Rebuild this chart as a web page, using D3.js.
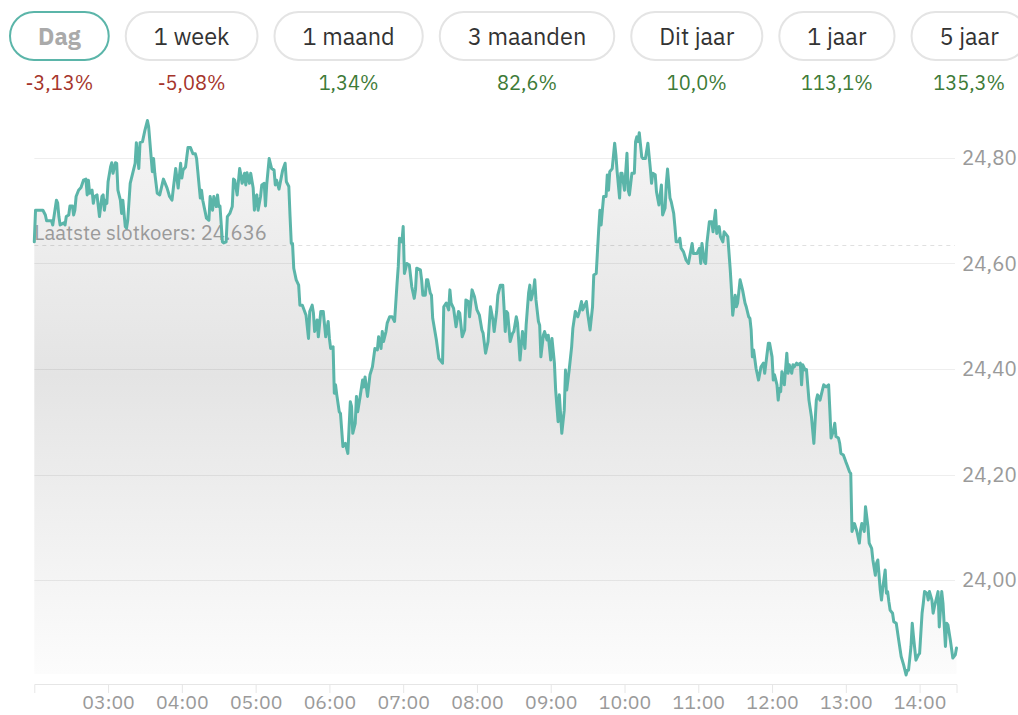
<!DOCTYPE html>
<html>
<head>
<meta charset="utf-8">
<script src="https://cdn.jsdelivr.net/npm/d3@7"></script>
<style>
	body { margin: 0; background: #fff; font-family: "IBM Plex Sans", "Noto Sans", sans-serif; }
</style>
</head>
<body>
<div id="chart"></div>
<script>
// Period buttons and their changes
var periodLabels = ['Dag', '1 week', '1 maand', '3 maanden', 'Dit jaar', '1 jaar', '5 jaar'];
var periodChanges = [-3.13, -5.08, 1.34, 82.6, 10.0, 113.1, 135.3];
var periodChangeText = ['-3,13%', '-5,08%', '1,34%', '82,6%', '10,0%', '113,1%', '135,3%'];
var activePeriod = 'Dag';

// Axis ticks
var yTickValues = [24.0, 24.2, 24.4, 24.6, 24.8];
var xTickLabels = ['03:00', '04:00', '05:00', '06:00', '07:00', '08:00', '09:00', '10:00', '11:00', '12:00', '13:00', '14:00'];
var xDomain = ['02:00', '14:30'];

// Previous close
var lastClose = 24.636;

// Intraday prices [time, price]
var koersData = [
	['02:00', 24.641], ['02:01', 24.701], ['02:05', 24.701], ['02:07', 24.701], ['02:09', 24.692], ['02:10', 24.681],
	['02:14', 24.681], ['02:15', 24.673], ['02:18', 24.720], ['02:19', 24.715], ['02:20', 24.689], ['02:21', 24.673],
	['02:24', 24.677], ['02:25', 24.673], ['02:26', 24.689], ['02:28', 24.692], ['02:29', 24.709], ['02:31', 24.709],
	['02:32', 24.692], ['02:33', 24.701], ['02:34', 24.727], ['02:36', 24.739], ['02:38', 24.744], ['02:40', 24.758],
	['02:42', 24.760], ['02:43', 24.730], ['02:44', 24.758], ['02:45', 24.733], ['02:47', 24.739], ['02:48', 24.714],
	['02:49', 24.727], ['02:51', 24.730], ['02:53', 24.689], ['02:55', 24.727], ['02:56', 24.730], ['02:57', 24.701],
	['02:58', 24.720], ['02:59', 24.714], ['03:00', 24.755], ['03:02', 24.783], ['03:03', 24.791], ['03:04', 24.771],
	['03:06', 24.791], ['03:07', 24.790], ['03:08', 24.739], ['03:10', 24.720], ['03:11', 24.695], ['03:12', 24.720],
	['03:14', 24.670], ['03:15', 24.667], ['03:16', 24.682], ['03:18', 24.752], ['03:20', 24.771], ['03:22', 24.790],
	['03:23', 24.829], ['03:25', 24.780], ['03:26', 24.829], ['03:28', 24.831], ['03:30', 24.853], ['03:32', 24.871],
	['03:33', 24.859], ['03:35', 24.802], ['03:36', 24.774], ['03:37', 24.799], ['03:38', 24.771], ['03:40', 24.733],
	['03:42', 24.730], ['03:45', 24.760], ['03:48', 24.743], ['03:50', 24.727], ['03:52', 24.720], ['03:53', 24.741],
	['03:55', 24.780], ['03:57', 24.743], ['03:59', 24.790], ['04:00', 24.762], ['04:01', 24.777], ['04:03', 24.783],
	['04:05', 24.820], ['04:07', 24.820], ['04:09', 24.808], ['04:11', 24.808], ['04:12', 24.799], ['04:15', 24.724],
	['04:16', 24.739], ['04:17', 24.720], ['04:20', 24.686], ['04:22', 24.682], ['04:23', 24.727], ['04:25', 24.701],
	['04:26', 24.727], ['04:28', 24.708], ['04:29', 24.730], ['04:30', 24.708], ['04:31', 24.709], ['04:33', 24.641],
	['04:34', 24.639], ['04:36', 24.641], ['04:37', 24.689], ['04:39', 24.695], ['04:41', 24.708], ['04:42', 24.760],
	['04:43', 24.758], ['04:45', 24.730], ['04:47', 24.780], ['04:48', 24.768], ['04:49', 24.752], ['04:51', 24.771],
	['04:52', 24.749], ['04:53', 24.772], ['04:55', 24.752], ['04:56', 24.771], ['04:58', 24.743], ['04:59', 24.701],
	['05:00', 24.727], ['05:01', 24.730], ['05:02', 24.701], ['05:04', 24.727], ['05:05', 24.749], ['05:07', 24.752],
	['05:08', 24.709], ['05:09', 24.749], ['05:11', 24.799], ['05:13', 24.780], ['05:15', 24.777], ['05:16', 24.749],
	['05:17', 24.758], ['05:19', 24.741], ['05:22', 24.777], ['05:24', 24.790], ['05:25', 24.755], ['05:27', 24.746],
	['05:28', 24.689], ['05:29', 24.638], ['05:30', 24.638], ['05:31', 24.591], ['05:33', 24.569], ['05:35', 24.559],
	['05:36', 24.521], ['05:38', 24.521], ['05:41', 24.502], ['05:43', 24.458], ['05:44', 24.509], ['05:46', 24.521],
	['05:47', 24.506], ['05:48', 24.471], ['05:50', 24.493], ['05:51', 24.461], ['05:53', 24.509], ['05:55', 24.509],
	['05:57', 24.461], ['05:59', 24.490], ['06:00', 24.458], ['06:01', 24.439], ['06:03', 24.442], ['06:04', 24.354],
	['06:05', 24.370], ['06:06', 24.351], ['06:08', 24.319], ['06:09', 24.316], ['06:11', 24.253], ['06:13', 24.259],
	['06:15', 24.240], ['06:17', 24.338], ['06:18', 24.329], ['06:19', 24.278], ['06:21', 24.297], ['06:22', 24.348],
	['06:23', 24.319], ['06:25', 24.348], ['06:27', 24.379], ['06:28', 24.366], ['06:29', 24.385], ['06:31', 24.348],
	['06:33', 24.389], ['06:35', 24.404], ['06:37', 24.439], ['06:39', 24.436], ['06:40', 24.461], ['06:42', 24.439],
	['06:43', 24.471], ['06:44', 24.452], ['06:46', 24.471], ['06:47', 24.487], ['06:49', 24.499], ['06:51', 24.499],
	['06:53', 24.490], ['06:55', 24.562], ['06:56', 24.594], ['06:57', 24.648], ['06:59', 24.641], ['07:00', 24.670],
	['07:01', 24.581], ['07:03', 24.600], ['07:05', 24.597], ['07:07', 24.556], ['07:09', 24.534], ['07:10', 24.550],
	['07:11', 24.591], ['07:14', 24.588], ['07:15', 24.569], ['07:16', 24.540], ['07:18', 24.540], ['07:19', 24.569],
	['07:20', 24.569], ['07:22', 24.544], ['07:23', 24.540], ['07:24', 24.496], ['07:27', 24.455], ['07:29', 24.420],
	['07:32', 24.411], ['07:33', 24.518], ['07:35', 24.525], ['07:37', 24.512], ['07:38', 24.550], ['07:39', 24.525],
	['07:41', 24.515], ['07:43', 24.480], ['07:45', 24.509], ['07:46', 24.506], ['07:48', 24.461], ['07:50', 24.474],
	['07:51', 24.531], ['07:53', 24.528], ['07:54', 24.499], ['07:56', 24.550], ['07:58', 24.537], ['08:00', 24.512],
	['08:02', 24.502], ['08:04', 24.474], ['08:05', 24.468], ['08:07', 24.430], ['08:09', 24.452], ['08:11', 24.518],
	['08:13', 24.493], ['08:14', 24.471], ['08:16', 24.509], ['08:17', 24.540], ['08:19', 24.559], ['08:21', 24.559],
	['08:22', 24.518], ['08:23', 24.471], ['08:24', 24.509], ['08:25', 24.506], ['08:27', 24.452], ['08:29', 24.468],
	['08:30', 24.471], ['08:32', 24.499], ['08:33', 24.487], ['08:34', 24.452], ['08:35', 24.417], ['08:37', 24.471],
	['08:39', 24.439], ['08:40', 24.483], ['08:42', 24.544], ['08:43', 24.559], ['08:44', 24.531], ['08:46', 24.550],
	['08:47', 24.569], ['08:48', 24.531], ['08:50', 24.490], ['08:51', 24.483], ['08:52', 24.423], ['08:54', 24.464],
	['08:55', 24.471], ['08:57', 24.455], ['08:58', 24.464], ['09:00', 24.417], ['09:01', 24.458], ['09:03', 24.411],
	['09:04', 24.360], ['09:06', 24.300], ['09:07', 24.351], ['09:09', 24.278], ['09:11', 24.322], ['09:12', 24.398],
	['09:13', 24.360], ['09:15', 24.398], ['09:17', 24.442], ['09:18', 24.477], ['09:20', 24.509], ['09:22', 24.499],
	['09:23', 24.506], ['09:25', 24.528], ['09:26', 24.512], ['09:29', 24.528], ['09:30', 24.506], ['09:32', 24.474],
	['09:34', 24.518], ['09:35', 24.578], ['09:37', 24.581], ['09:39', 24.664], ['09:40', 24.701], ['09:41', 24.673],
	['09:42', 24.701], ['09:43', 24.727], ['09:45', 24.727], ['09:46', 24.768], ['09:47', 24.739], ['09:48', 24.774],
	['09:50', 24.780], ['09:52', 24.828], ['09:53', 24.806], ['09:54', 24.774], ['09:56', 24.724], ['09:57', 24.771],
	['09:58', 24.771], ['10:00', 24.739], ['10:02', 24.809], ['10:03', 24.739], ['10:04', 24.730], ['10:06', 24.771],
	['10:08', 24.771], ['10:09', 24.831], ['10:10', 24.840], ['10:11', 24.831], ['10:12', 24.848], ['10:14', 24.802],
	['10:15', 24.799], ['10:17', 24.799], ['10:19', 24.828], ['10:21', 24.780], ['10:22', 24.752], ['10:23', 24.771],
	['10:25', 24.768], ['10:26', 24.736], ['10:28', 24.711], ['10:30', 24.749], ['10:31', 24.692], ['10:33', 24.705],
	['10:34', 24.752], ['10:35', 24.779], ['10:37', 24.724], ['10:38', 24.717], ['10:40', 24.695], ['10:41', 24.670],
	['10:42', 24.641], ['10:44', 24.641], ['10:45', 24.648], ['10:46', 24.629], ['10:48', 24.622], ['10:50', 24.607],
	['10:52', 24.600], ['10:53', 24.613], ['10:55', 24.638], ['10:56', 24.619], ['10:57', 24.619], ['10:59', 24.619],
	['11:01', 24.629], ['11:02', 24.600], ['11:03', 24.638], ['11:05', 24.603], ['11:06', 24.600], ['11:07', 24.638],
	['11:09', 24.679], ['11:11', 24.679], ['11:12', 24.660], ['11:13', 24.682], ['11:14', 24.701], ['11:15', 24.657],
	['11:17', 24.670], ['11:18', 24.651], ['11:20', 24.641], ['11:21', 24.660], ['11:22', 24.657], ['11:24', 24.651],
	['11:26', 24.588], ['11:27', 24.550], ['11:28', 24.502], ['11:30', 24.540], ['11:31', 24.518], ['11:32', 24.525],
	['11:34', 24.569], ['11:36', 24.550], ['11:38', 24.525], ['11:39', 24.518], ['11:41', 24.499], ['11:42', 24.496],
	['11:43', 24.474], ['11:44', 24.423], ['11:45', 24.436], ['11:47', 24.401], ['11:49', 24.379], ['11:51', 24.404],
	['11:53', 24.411], ['11:54', 24.392], ['11:55', 24.411], ['11:57', 24.449], ['11:58', 24.449], ['12:00', 24.423],
	['12:01', 24.379], ['12:02', 24.389], ['12:04', 24.370], ['12:05', 24.341], ['12:06', 24.363], ['12:07', 24.357],
	['12:08', 24.395], ['12:10', 24.370], ['12:12', 24.430], ['12:13', 24.392], ['12:14', 24.408], ['12:16', 24.392],
	['12:17', 24.408], ['12:18', 24.404], ['12:20', 24.411], ['12:21', 24.408], ['12:23', 24.411], ['12:24', 24.370],
	['12:25', 24.408], ['12:27', 24.398], ['12:28', 24.399], ['12:30', 24.341], ['12:32', 24.310], ['12:34', 24.259],
	['12:36', 24.341], ['12:37', 24.351], ['12:39', 24.341], ['12:40', 24.351], ['12:42', 24.370], ['12:44', 24.366],
	['12:46', 24.370], ['12:47', 24.322], ['12:48', 24.269], ['12:50', 24.284], ['12:51', 24.297], ['12:52', 24.272],
	['12:54', 24.269], ['12:55', 24.259], ['12:56', 24.240], ['12:58', 24.237], ['13:00', 24.224], ['13:01', 24.218],
	['13:03', 24.205], ['13:04', 24.202], ['13:05', 24.092], ['13:07', 24.107], ['13:09', 24.092], ['13:11', 24.070],
	['13:12', 24.095], ['13:13', 24.107], ['13:15', 24.092], ['13:16', 24.139], ['13:18', 24.101], ['13:19', 24.070],
	['13:21', 24.060], ['13:22', 24.038], ['13:24', 24.009], ['13:25', 24.032], ['13:26', 24.038], ['13:28', 23.981],
	['13:29', 23.962], ['13:30', 23.984], ['13:32', 24.019], ['13:33', 23.975], ['13:34', 23.978], ['13:35', 23.959],
	['13:36', 23.943], ['13:38', 23.937], ['13:39', 23.921], ['13:41', 23.918], ['13:43', 23.886], ['13:45', 23.855],
	['13:47', 23.839], ['13:49', 23.820], ['13:50', 23.829], ['13:51', 23.829], ['13:53', 23.874], ['13:54', 23.918],
	['13:55', 23.893], ['13:57', 23.848], ['13:59', 23.858], ['14:00', 23.861], ['14:02', 23.937], ['14:03', 23.956],
	['14:04', 23.978], ['14:06', 23.975], ['14:07', 23.962], ['14:08', 23.978], ['14:10', 23.962], ['14:11', 23.937],
	['14:12', 23.949], ['14:14', 23.968], ['14:15', 23.978], ['14:16', 23.911], ['14:18', 23.978], ['14:19', 23.956],
	['14:21', 23.874], ['14:22', 23.918], ['14:23', 23.915], ['14:25', 23.886], ['14:27', 23.852], ['14:29', 23.858],
	['14:30', 23.871]
];

// Set up svg width and height
var svgWidth = 1018;
var svgHeight = 715;

// Plot area
var plot = { left: 34.3, right: 956.5, top: 110, bottom: 674, gridRight: 955, axisY: 684 };

var svg = d3.select('#chart').append('svg').attr('width', svgWidth).attr('height', svgHeight);

var parseTime = d3.timeParse('%H:%M');
var nl = d3.formatLocale({ decimal: ',', thousands: '.', grouping: [ 3 ], currency: [ '€', '' ] });
var yFormat = nl.format('.2f');

koersData.forEach(function(d) {
	d.time = parseTime(d[0]);
	d.price = +d[1];
});

// Scales
var xScale = d3.scaleTime().domain(xDomain.map(parseTime)).range([ plot.left, plot.right ]);
var yScale = d3.scaleLinear().domain([ 24.0, 24.8 ]).range([ 580, 158 ]);

// Gradient for the area
var defs = svg.append('defs');
var grad = defs
	.append('linearGradient')
	.attr('id', 'areaFill')
	.attr('gradientUnits', 'userSpaceOnUse')
	.attr('x1', 0)
	.attr('x2', 0)
	.attr('y1', plot.top)
	.attr('y2', plot.bottom);
grad.append('stop').attr('offset', 0).attr('stop-color', '#f6f6f6');
grad.append('stop').attr('offset', 0.47).attr('stop-color', '#e4e4e4');
grad.append('stop').attr('offset', 1).attr('stop-color', '#fcfcfc');

// ---- Period buttons ----
var btnGroup = svg.append('g').attr('class', 'periods');
var btnX = 9;
var btnPad = 29;
var btnGap = 15;
periodLabels.forEach(function(label, i) {
	var isActive = label === activePeriod;
	var g = btnGroup.append('g');
	var rect = g.append('rect');
	var txt = g
		.append('text')
		.attr('y', 45)
		.attr('text-anchor', 'middle')
		.style('font-size', '23.5px')
		.style('font-weight', isActive ? 700 : 400)
		.attr('fill', isActive ? '#aaaaaa' : '#333333')
		.text(label);
	var w = txt.node().getComputedTextLength() + 2 * btnPad;
	var cx = btnX + w / 2;
	txt.attr('x', cx);
	rect
		.attr('x', btnX + 1)
		.attr('y', 12)
		.attr('width', w - 2)
		.attr('height', 48)
		.attr('rx', 24)
		.attr('fill', '#fff')
		.attr('stroke', isActive ? '#5bb5a9' : '#e4e4e4')
		.attr('stroke-width', 2);
	g
		.append('text')
		.attr('x', cx)
		.attr('y', 90)
		.attr('text-anchor', 'middle')
		.style('font-size', '20px')
		.attr('fill', periodChanges[i] < 0 ? '#a5342b' : '#3d7a37')
		.text(periodChangeText[i]);
	btnX += w + btnGap;
});

// ---- Area ----
var area = d3.area().x((d) => xScale(d.time)).y0(plot.bottom).y1((d) => yScale(d.price));
svg.append('path').datum(koersData).attr('d', area).attr('fill', 'url(#areaFill)');

// ---- Gridlines and y labels ----
var yGroup = svg.append('g').attr('class', 'y-axis');
yGroup
	.selectAll('line')
	.data(yTickValues)
	.enter()
	.append('line')
	.attr('x1', plot.left)
	.attr('x2', plot.gridRight)
	.attr('y1', (d) => Math.round(yScale(d)) + 0.5)
	.attr('y2', (d) => Math.round(yScale(d)) + 0.5)
	.attr('stroke', '#000')
	.attr('stroke-opacity', 0.065);
yGroup
	.selectAll('text')
	.data(yTickValues)
	.enter()
	.append('text')
	.attr('x', 962)
	.attr('y', (d) => yScale(d))
	.attr('dy', '0.35em')
	.style('font-size', '20.5px')
	.attr('fill', '#9a9a9a')
	.text((d) => yFormat(d));

// ---- Last close ----
svg
	.append('line')
	.attr('x1', plot.left)
	.attr('x2', plot.gridRight)
	.attr('y1', Math.round(yScale(lastClose)) + 0.5)
	.attr('y2', Math.round(yScale(lastClose)) + 0.5)
	.attr('stroke', '#000')
	.attr('stroke-opacity', 0.12)
	.attr('stroke-dasharray', '4,4');
svg
	.append('text')
	.attr('x', plot.left)
	.attr('y', yScale(lastClose) - 4.5)
	.style('font-size', '20.3px')
	.attr('fill', '#9a9a9a')
	.text('Laatste slotkoers: ' + lastClose.toFixed(3));

// ---- Line ----
var line = d3.line().x((d) => xScale(d.time)).y((d) => yScale(d.price));
svg
	.append('path')
	.datum(koersData)
	.attr('d', line)
	.attr('fill', 'none')
	.attr('stroke', '#5bb5a9')
	.attr('stroke-width', 3)
	.attr('stroke-linejoin', 'round')
	.attr('stroke-linecap', 'round');

// ---- X axis ----
var bottomAxis = d3
	.axisBottom(xScale)
	.tickValues(xTickLabels.map(parseTime))
	.tickFormat(d3.timeFormat('%H:%M'))
	.tickSize(9)
	.tickSizeOuter(9)
	.tickPadding(2);
var xAxis = svg.append('g').attr('transform', `translate(0, ${plot.axisY})`).call(bottomAxis);
xAxis.select('.domain').attr('stroke', '#e6e6e6');
xAxis.selectAll('.tick line').attr('stroke', '#e6e6e6');
xAxis
	.selectAll('.tick text')
	.attr('fill', '#9a9a9a')
	.style('font-size', '19.5px')
	.style('font-family', '"IBM Plex Sans", "Noto Sans", sans-serif');
</script>
</body>
</html>
